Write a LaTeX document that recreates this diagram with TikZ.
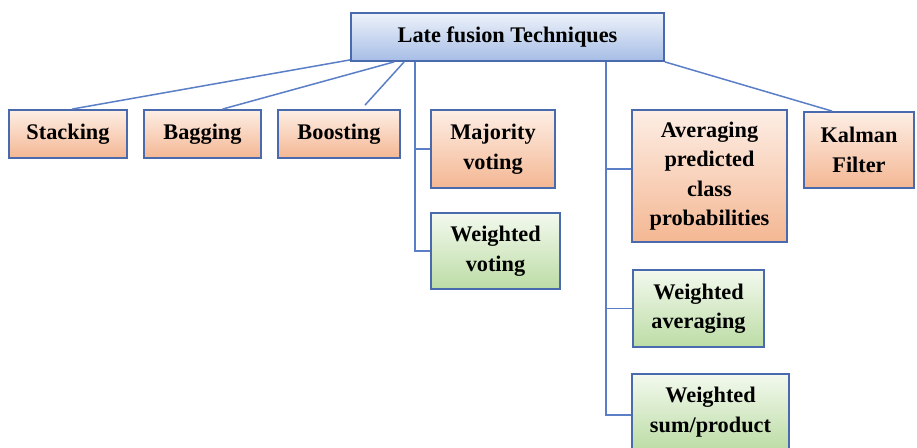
\documentclass[tikz,border=0pt]{standalone}
\usepackage{fontspec}
\setmainfont{Liberation Serif}
\usetikzlibrary{calc}
\definecolor{bordercol}{HTML}{4A6AAE}
\definecolor{linecol}{HTML}{5B7FC7}
\definecolor{blueTop}{HTML}{EEF2FA}
\definecolor{blueBot}{HTML}{A6BDE6}
\definecolor{orTop}{HTML}{FDEEE5}
\definecolor{orBot}{HTML}{F4B793}
\definecolor{grTop}{HTML}{F3F9EE}
\definecolor{grBot}{HTML}{BCDCA5}
\tikzset{
  boxbase/.style={draw=bordercol, line width=1.8pt, inner sep=0pt, align=center,
    font=\fontsize{22.3}{29.5}\selectfont\bfseries},
  headbox/.style={boxbase, top color=blueTop, bottom color=blueBot},
  orbox/.style={boxbase, top color=orTop, bottom color=orBot},
  grbox/.style={boxbase, top color=grTop, bottom color=grBot},
  conn/.style={draw=linecol, line width=1.5pt}
}
\begin{document}
\begin{tikzpicture}[x=1pt,y=-1pt]
\fill[white] (0,0) rectangle (917,447);
\useasboundingbox (0,0) rectangle (917,447);
% nodes
\node[headbox, minimum width=313pt, minimum height=48pt] (top) at (507.5,37) {\raisebox{1.5pt}{Late fusion Techniques}};
\node[orbox, minimum width=118pt, minimum height=48pt] (stack) at (68,134) {Stacking};
\node[orbox, minimum width=117pt, minimum height=48pt] (bag) at (202.5,134) {Bagging};
\node[orbox, minimum width=122pt, minimum height=48pt] (boost) at (339,134) {Boosting};
\node[orbox, minimum width=124pt, minimum height=78pt] (major) at (493,149) {Majority\\voting};
\node[grbox, minimum width=129pt, minimum height=76pt] (wvote) at (495.5,251) {Weighted\\voting};
\node[orbox, minimum width=155pt, minimum height=132pt] (avg) at (709.5,176) {Averaging\\predicted\\class\\probabilities};
\node[orbox, minimum width=110pt, minimum height=76pt] (kal) at (859,150) {Kalman\\Filter};
\node[grbox, minimum width=131pt, minimum height=77pt] (wavg) at (698.5,308.5) {Weighted\\averaging};
\node[grbox, minimum width=157pt, minimum height=76pt] (wsum) at (710.5,412) {Weighted\\sum/product};
% connectors
\draw[conn] ($(stack.north)+(4,0)$) -- ($(top.south west)+(0,-2)$);
\draw[conn] ($(bag.north)+(20,0)$) -- ($(top.south west)+(44,0)$);
\draw[conn] ($(boost.north)+(26,-4)$) -- ($(top.south west)+(54,0)$);
\coordinate (vl) at ($(top.south west)+(65,0)$);
\draw[conn] (vl) |- (major.west);
\draw[conn] (vl) |- (wvote.west);
\coordinate (vr) at ($(top.south west)+(256,0)$);
\draw[conn] (vr) |- ($(avg.west)+(0,-7)$);
\draw[conn] (vr) |- (wavg.west);
\draw[conn] (vr) |- ($(wsum.west)+(0,3)$);
\draw[conn] (top.south east) -- ($(kal.north west)+(29,0)$);
\end{tikzpicture}
\end{document}
